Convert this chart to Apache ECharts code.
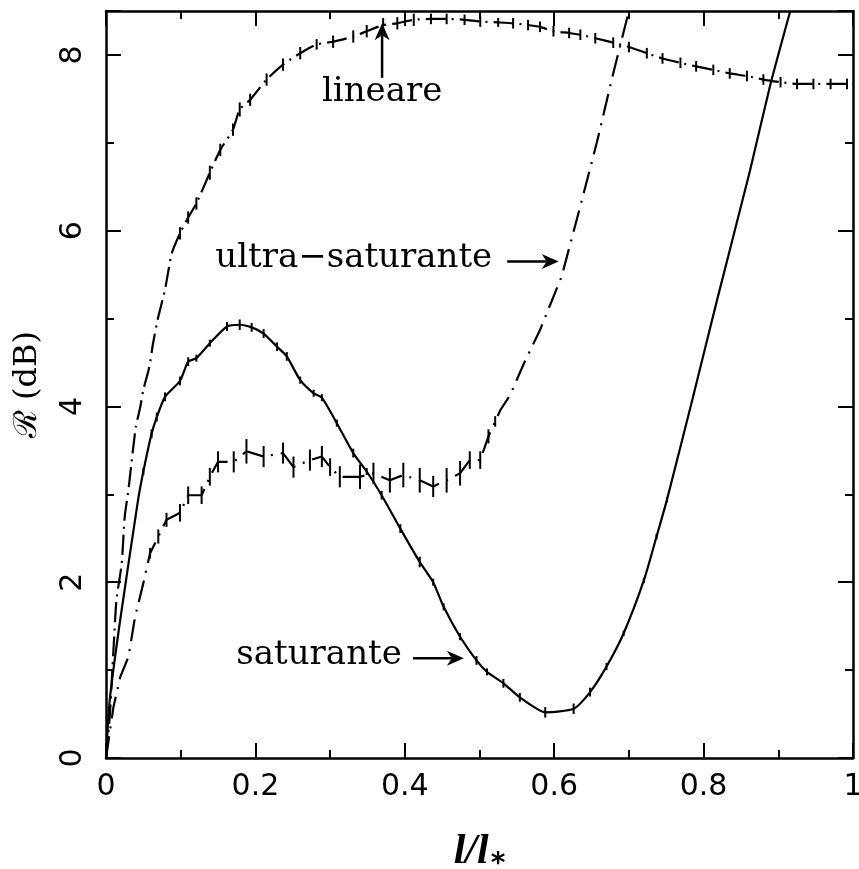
<!DOCTYPE html>
<html><head><meta charset="utf-8">
<script src="https://cdn.jsdelivr.net/npm/echarts@6/dist/echarts.min.js"></script>
<style>html,body{margin:0;padding:0;background:#fff}#c{width:859px;height:869px}</style>
</head><body><div id="c"></div>
<script>
// ---- data (x = l/l*, y = R in dB, e = error half-height) ----
const xTickLabels = ['0','0.2','0.4','0.6','0.8','1'];
const yTickLabels = ['0','2','4','6','8'];

const linX = [0,0.005,0.01,0.014,0.021,0.025,0.03,0.034,0.040,0.046,0.05,0.058,0.063,0.070,0.079,0.088,0.099,0.11,0.121,0.139,0.153,0.170,0.179,0.193,0.215,0.237,0.260,0.282,0.304,0.331,0.349,0.371,0.39,0.412,0.435,0.456,0.48,0.501,0.525,0.545,0.565,0.581,0.599,0.62,0.635,0.655,0.679,0.70,0.724,0.745,0.769,0.79,0.813,0.835,0.858,0.88,0.903,0.925,0.947,0.97,0.992,1.0];
const linY = [0,0.47,1.23,1.80,2.21,2.74,3.05,3.35,3.77,4.0,4.19,4.45,4.72,5.02,5.33,5.74,5.97,6.15,6.31,6.66,6.92,7.15,7.38,7.49,7.72,7.89,8.02,8.12,8.15,8.21,8.27,8.34,8.36,8.40,8.41,8.41,8.40,8.38,8.37,8.36,8.34,8.32,8.27,8.25,8.23,8.19,8.14,8.09,8.02,7.96,7.91,7.87,7.83,7.79,7.76,7.72,7.69,7.67,7.67,7.67,7.67,7.67];
const linE = [0,0,0,0,0,0,0,0,0,0,0,0,0,0,0,0,0.07,0.07,0.07,0.08,0.07,0.07,0.08,0.07,0.07,0.07,0.07,0.06,0.07,0.07,0.07,0.08,0.07,0.07,0.06,0.06,0.06,0.06,0.05,0.06,0.06,0.06,0.06,0.06,0.06,0.06,0.06,0.06,0.06,0.06,0.06,0.06,0.06,0.06,0.06,0.06,0.06,0.06,0.06,0.06,0.06,0];

const ultX = [0,0.01,0.019,0.03,0.039,0.05,0.059,0.07,0.081,0.099,0.11,0.128,0.139,0.150,0.171,0.188,0.211,0.237,0.251,0.273,0.289,0.30,0.313,0.340,0.358,0.380,0.398,0.42,0.438,0.456,0.474,0.487,0.501,0.512,0.521,0.528,0.541,0.56,0.581,0.61,0.635,0.657,0.679,0.70];
const ultY = [0,0.58,0.92,1.15,1.61,1.99,2.33,2.52,2.71,2.79,2.99,2.99,3.20,3.37,3.37,3.49,3.43,3.47,3.31,3.39,3.43,3.31,3.20,3.20,3.24,3.16,3.22,3.16,3.09,3.16,3.24,3.39,3.39,3.66,3.83,3.96,4.13,4.5,4.87,5.48,6.28,7.0,7.79,8.5];
const ultE = [0,0,0,0,0,0,0.06,0.08,0.08,0.1,0.1,0.1,0.1,0.12,0.12,0.14,0.12,0.12,0.12,0.12,0.12,0.1,0.12,0.14,0.12,0.14,0.14,0.14,0.12,0.14,0.14,0.1,0.1,0.08,0.06,0,0,0,0,0,0,0,0,0];

const satX = [0,0.005,0.019,0.043,0.05,0.061,0.068,0.079,0.099,0.110,0.121,0.139,0.162,0.179,0.195,0.211,0.229,0.242,0.260,0.278,0.289,0.309,0.331,0.349,0.369,0.394,0.42,0.438,0.452,0.474,0.496,0.51,0.532,0.554,0.588,0.626,0.648,0.67,0.693,0.72,0.737,0.751,0.785,0.818,0.862,0.889,0.916];
const satY = [0,0.66,1.57,2.94,3.26,3.69,3.88,4.11,4.29,4.51,4.55,4.72,4.91,4.93,4.90,4.83,4.68,4.57,4.30,4.15,4.10,3.81,3.47,3.26,2.99,2.61,2.23,2.00,1.72,1.38,1.11,0.98,0.85,0.69,0.52,0.56,0.75,1.04,1.42,2.02,2.52,2.94,4.08,5.21,6.68,7.65,8.50];
const satE = [0,0,0,0,0.04,0.05,0.05,0.05,0.05,0.05,0.04,0.04,0.05,0.06,0.05,0.05,0.05,0.05,0.04,0.04,0.04,0.04,0.05,0.04,0.05,0.05,0.06,0.04,0.04,0.04,0.05,0.04,0.05,0.05,0.06,0.06,0.05,0.04,0.03,0.03,0.03,0.03,0,0,0,0,0];

// annotations: [text, textX, textY, arrowFromX, arrowFromY, arrowToX, arrowToY, align]
const annotations = [
  ['lineare', 0.3696, 7.58, 0.3696, 7.74, 0.3696, 8.36, 'center'],
  ['ultra\u2212saturante', 0.517, 5.69, 0.537, 5.65, 0.606, 5.65, 'right'],
  ['saturante', 0.396, 1.17, 0.411, 1.135, 0.479, 1.135, 'right']
];

function zip(xs, ys){ return xs.map((x,i)=>[x, ys[i]]); }
function zip3(xs, ys, es){ return xs.map((x,i)=>[x, ys[i], es[i]]); }

const chart = echarts.init(document.getElementById('c'), null, {renderer:'canvas'});
const LW = 2.2;
const tickFont = {fontFamily:'DejaVu Sans', fontSize:30, color:'#000'};

function errSeries(name, data){
  return {
    type:'custom', name:name, xAxisIndex:0, yAxisIndex:0, clip:true, silent:true, z:3,
    data:data,
    renderItem:function(params, api){
      const x=api.value(0), y=api.value(1), e=api.value(2);
      if(!e) return null;
      const p1=api.coord([x,y-e]), p2=api.coord([x,y+e]);
      return {type:'line', shape:{x1:p1[0],y1:p1[1],x2:p2[0],y2:p2[1]}, style:{stroke:'#000', lineWidth:2}};
    }
  };
}

const axisCommon = {
  type:'value', min:0, splitLine:{show:false},
  axisLine:{show:true, onZero:false, lineStyle:{color:'#000', width:2.5}},
  axisTick:{show:true, inside:true, length:15, lineStyle:{color:'#000', width:2}},
  minorTick:{show:true, splitNumber:2, length:8, lineStyle:{color:'#000', width:2}},
};

chart.setOption({
  animation:false,
  backgroundColor:'#fff',
  grid:{left:106, right:6, top:11, bottom:111, containLabel:false, outerBoundsMode:'none'},
  xAxis:[
    Object.assign({}, axisCommon, {position:'bottom', max:1, interval:0.2,
      axisLabel:Object.assign({show:true, margin:14, formatter:v=>xTickLabels[Math.round(v/0.2)] ?? ''}, tickFont),
      name:'{a|l/l}{b|*}', nameLocation:'middle', nameGap:72,
      nameTextStyle:{rich:{
        a:{fontFamily:'Liberation Serif', fontStyle:'italic', fontWeight:'bold', fontSize:42, color:'#000', lineHeight:44},
        b:{fontFamily:'DejaVu Sans', fontWeight:'bold', fontSize:28, color:'#000', lineHeight:44, padding:[26,0,0,2]}
      }}}),
    Object.assign({}, axisCommon, {position:'top', max:1, interval:0.2, axisLabel:{show:false}})
  ],
  yAxis:[
    Object.assign({}, axisCommon, {position:'left', max:8.5, interval:2,
      axisLabel:Object.assign({show:true, rotate:90, margin:18, formatter:v=>(v%2===0 && v<=8)?yTickLabels[v/2]:''}, tickFont),
      name:'\u211B (dB)', nameLocation:'middle', nameGap:62, nameRotate:90,
      nameTextStyle:{fontFamily:'DejaVu Serif', fontSize:32, color:'#000'}}),
    Object.assign({}, axisCommon, {position:'right', max:8.5, interval:2, axisLabel:{show:false}})
  ],
  series:[
    {type:'line', name:'lineare', data:zip(linX, linY), showSymbol:false, z:2, smooth:0.2,
     lineStyle:{color:'#000', width:LW, type:[20,6,2,6]}},
    errSeries('lineare err', zip3(linX, linY, linE)),
    {type:'line', name:'ultra-saturante', data:zip(ultX, ultY), showSymbol:false, z:2,
     lineStyle:{color:'#000', width:LW, type:[22,8,2,8]}},
    errSeries('ultra err', zip3(ultX, ultY, ultE)),
    {type:'line', name:'saturante', data:zip(satX, satY), showSymbol:false, z:2, smooth:0.2,
     lineStyle:{color:'#000', width:LW}},
    errSeries('sat err', zip3(satX, satY, satE))
  ]
});

// annotations with arrows, positioned through the chart's own scales
const g = [];
annotations.forEach(a=>{
  const t = chart.convertToPixel({gridIndex:0}, [a[1], a[2]]);
  const p0 = chart.convertToPixel({gridIndex:0}, [a[3], a[4]]);
  const p1 = chart.convertToPixel({gridIndex:0}, [a[5], a[6]]);
  g.push({type:'text', x:t[0], y:t[1], style:{text:a[0], fontFamily:'DejaVu Serif', fontSize:34, fill:'#000', align:a[7], verticalAlign:'middle'}});
  const dx=p1[0]-p0[0], dy=p1[1]-p0[1], L=Math.hypot(dx,dy), ux=dx/L, uy=dy/L, nx=-uy, ny=ux;
  const hl=17, hw=7.5, notch=5;
  const bx=p1[0]-ux*hl, by=p1[1]-uy*hl;
  g.push({type:'line', shape:{x1:p0[0], y1:p0[1], x2:bx+ux*notch, y2:by+uy*notch}, style:{stroke:'#000', lineWidth:2.5}});
  g.push({type:'polygon', shape:{points:[[p1[0],p1[1]],[bx+nx*hw,by+ny*hw],[bx+ux*notch,by+uy*notch],[bx-nx*hw,by-ny*hw]]}, style:{fill:'#000'}});
});
chart.setOption({graphic:g});
</script>
</body></html>
